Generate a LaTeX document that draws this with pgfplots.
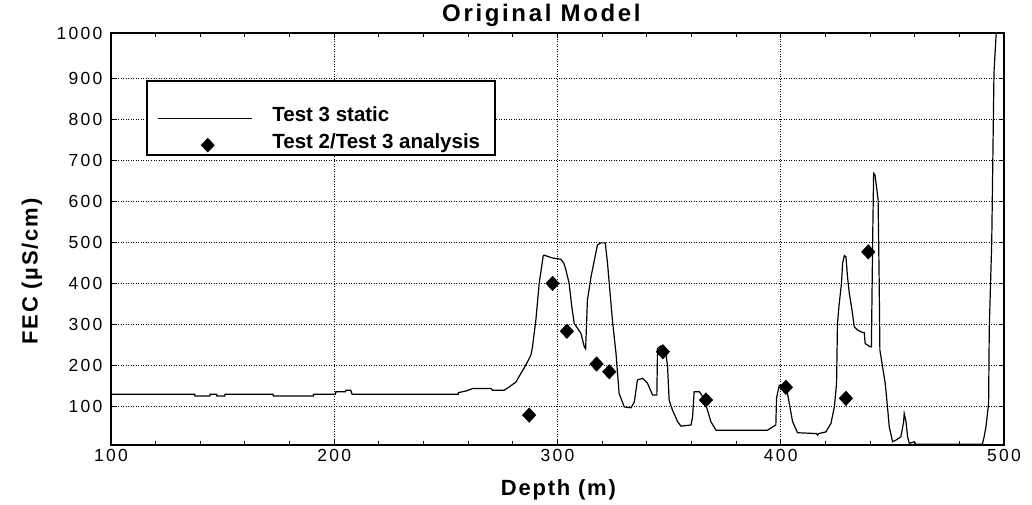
\documentclass[border=0pt]{standalone}
\usepackage{fontspec}
\setmainfont{Liberation Sans}
\newfontfamily\tickfont{Liberation Sans}[LetterSpace=13]
\newfontfamily\labfont{Liberation Sans}[LetterSpace=8]
\newfontfamily\titfont{Liberation Sans}[LetterSpace=11]
\usepackage{pgfplots}
\pgfplotsset{compat=1.18}
\usepackage{pgfplotstable}

\pgfplotstableread{
x y
100 129
137.5 129
137.6 125
144.3 125
144.4 129
147.3 129
147.4 125
151 125
151.1 129
172.6 129
172.7 125
190.6 125
190.7 129
200.5 129
200.7 135
205 135
205.3 139
207.4 139
208 129
255.5 129
255.6 133
259 137
262 143
270.3 143
270.9 139
276.1 139
278.4 147
281.4 159
283.6 180
285.8 200
288.1 225
288.8 245
290.3 310
291.8 400
293.6 467
294 469
297.8 462
301.5 459
302.8 450
303.8 432
305.2 400
306.4 343
307.5 302
310.5 278
312 245
312.6 240
313.4 359
315 416
317.9 494
319.4 499
321.4 499
322.4 449
324.6 310
326.2 229
327.6 131
329.9 98
332.9 96
334.4 110
335.8 164
338.1 168
340.3 156
342.6 127
344.5 127
344.8 241
346.3 247
348.6 229
349.3 196
350 115
351.5 90
353.8 62
355.3 51
359.8 54
360.5 74
361.2 135
363.5 135
364.5 128
366 112
367.2 90
368.7 62
371 41
394 41
396.3 49
397.8 54
398.1 119
399.3 151
402.5 148
403.8 107
405.3 62
407.5 35
416 33
416.5 29
417 33
420.2 37
422.5 58
424 98
425 155
425.4 302
426.2 351
427.2 400
427.7 449
428.5 468
429.2 465
429.9 416
430.7 376
431.9 335
432.9 294
434.4 286
436.6 280
437.4 280
437.8 253
440 245
440.6 245
441.2 520
441.6 669
442.2 665
442.8 640
443.6 604
444.1 400
444.4 237
445.6 196
446.8 155
447.8 98
448.6 49
450.1 13
451.6 17
453.8 25
455 60
455.3 82
456.1 62
456.8 25
457.6 9
459.8 13
460.5 7
490.3 7
491.1 25
491.9 49
492.6 82
493.1 107
493.4 290
494.5 500
495.5 913
496.5 1012
}\staticdata

\pgfplotstableread{
x y
287.3 78
297.8 400
304.2 283
317.5 203
323.2 184
347.2 233
366.5 115
402.3 146
429.2 119
439.2 477
}\analysisdata

\begin{document}
\begin{tikzpicture}
\useasboundingbox (-111pt,-60pt) rectangle (921pt,445pt);
\begin{axis}[
  at={(0pt,0pt)}, anchor=south west,
  scale only axis, width=893pt, height=412pt,
  xmin=100, xmax=500, ymin=5, ymax=1012,
  clip mode=individual,
  xtick={100,200,300,400,500},
  ytick={100,200,300,400,500,600,700,800,900,1012},
  yticklabels={100,200,300,400,500,600,700,800,900,1000},
  minor x tick num=4, minor y tick num=4,
  tick align=inside,
  xtick pos=both, ytick pos=both,
  major tick length=5pt, minor tick length=4pt,
  every tick/.style={black, line width=1pt},
  axis line style={line width=1.6pt},
  xmajorgrids, ymajorgrids,
  major grid style={black, line width=0.9pt, dash pattern=on 1pt off 1.5pt},
  /pgf/number format/assume math mode=true,
  ticklabel style={font=\tickfont\fontsize{17.5}{20}\selectfont},
  xticklabel style={yshift=-1pt},
  yticklabel style={xshift=-5pt},
  xlabel={Depth (m)},
  xlabel style={font=\labfont\bfseries\fontsize{22}{26}\selectfont, at={(axis description cs:0.501,-0.109)}, anchor=center},
  ylabel={FEC (µS/cm)},
  ylabel style={font=\labfont\bfseries\fontsize{22}{26}\selectfont, at={(axis description cs:-0.0885,0.421)}, anchor=center},
  legend style={at={(axis description cs:0.0515,0.812)}, anchor=north west, draw=none, fill=none,
    inner sep=0pt, row sep=12pt, font=\bfseries\fontsize{20.5}{24}\selectfont,
    nodes={inner sep=0pt, text height=11pt, text depth=4pt},
    /tikz/every odd column/.append style={column sep=20pt}},
  legend cell align=left,
]
\draw[line width=1.2pt, fill=white] (axis description cs:0.0403,0.8835) rectangle (axis description cs:0.43,0.7039);
\node[font=\titfont\bfseries\fontsize{24}{28}\selectfont, anchor=center, inner sep=0pt] at (axis description cs:0.482,1.042) {Original Model};
\addplot[black, line width=1.2pt, sharp plot,
  legend image code/.code={\draw[black, line width=1.2pt] (0pt,0pt) -- (94pt,0pt);}]
  table[x=x,y=y] {\staticdata};
\addlegendentry{Test 3 static}
\addplot[only marks, mark=diamond*, mark size=7.25pt,
  mark options={fill=black, draw=black, xscale=1.25},
  legend image code/.code={\path[draw=none] (0pt,0pt) -- (94pt,0pt); \fill[black, draw=none] (50pt,7.3pt) -- (57pt,0pt) -- (50pt,-7.3pt) -- (43pt,0pt) -- cycle;}]
  table[x=x,y=y] {\analysisdata};
\addlegendentry{Test 2/Test 3 analysis}
\end{axis}
\end{tikzpicture}
\end{document}
